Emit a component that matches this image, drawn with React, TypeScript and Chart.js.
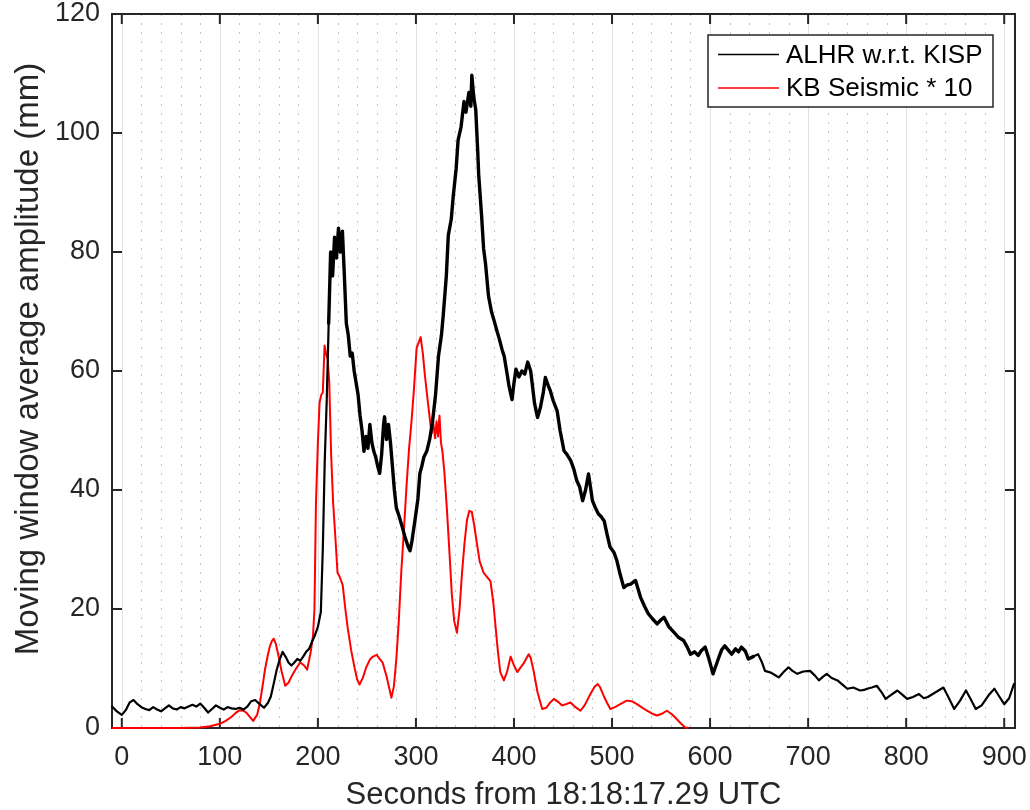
import React, { useEffect, useRef } from "react";
import { Chart, registerables } from "chart.js";

Chart.register(...registerables);

// ---- Data (seconds, amplitude in mm) ----
const alhrLabel = "ALHR w.r.t. KISP";
const seismicLabel = "KB Seismic * 10";

const alhrTrace: [number, number][] = [
  [-10, 3.6], [-5, 2.8], [0, 2.2], [4, 3.0], [8, 4.3], [12, 4.7], [16, 4.0], [20, 3.5],
  [24, 3.2], [28, 3.0], [32, 3.5], [36, 3.1], [40, 2.8], [44, 3.3], [48, 3.8], [52, 3.3],
  [56, 3.1], [60, 3.5], [64, 3.3], [68, 3.6], [72, 3.9], [76, 3.6], [80, 4.1], [84, 3.4],
  [88, 2.6], [92, 3.2], [96, 3.8], [100, 3.4], [104, 3.1], [108, 3.5], [112, 3.3], [116, 3.2],
  [120, 3.4], [124, 3.1], [128, 3.6], [132, 4.5], [136, 4.7], [140, 4.1], [145, 3.4], [149, 4.2],
  [152, 5.3], [155, 7.5], [158, 9.8], [161, 11.5], [164, 12.8], [167, 12.0], [170, 11.0], [173, 10.5],
  [176, 11.0], [179, 11.6], [182, 11.3], [185, 12.0], [188, 12.8], [191, 13.3], [194, 14.5], [197, 15.6],
  [200, 17.0], [203, 19.5], [205, 30], [207, 45], [209, 55], [211, 68], [213, 80], [215, 76],
  [217, 82.5], [219, 79], [221, 84], [223, 80], [225, 83.5], [227, 76], [229, 68], [231, 66],
  [233, 62.5], [235, 63], [237, 60], [239, 58], [241, 56], [243, 52.5], [245, 50], [247, 46.5],
  [249, 49], [251, 47], [253, 51], [255, 48], [257, 46.5], [259, 45.5], [261, 44], [263, 42.8],
  [265, 46], [267, 51], [268, 52.3], [270, 48.5], [272, 51], [274, 48], [276, 44], [278, 40],
  [280, 37], [283, 35.5], [286, 33.8], [289, 32], [292, 30.5], [294, 29.8], [296, 31.5], [299, 34.9],
  [302, 38.5], [304, 42.8], [306, 44], [308, 45.5], [311, 46.5], [314, 48.5], [317, 51.6], [320, 56],
  [323, 62.5], [326, 66], [328, 69.7], [331, 76], [333, 82.8], [336, 85.5], [338, 89.3], [341, 94],
  [343, 98.8], [346, 101], [349, 105.3], [351, 103.5], [354, 106.8], [356, 104.5], [357, 109.7], [359, 106],
  [361, 103.9], [363, 97], [364, 93], [367, 86], [369, 80.6], [371, 78], [374, 72.6], [377, 70],
  [380, 68.3], [383, 66.5], [385, 65.4], [388, 63.5], [390, 62.5], [393, 59.5], [395, 57.4], [398, 55.2],
  [400, 58], [402, 60.3], [405, 59], [408, 60], [411, 59.5], [414, 61.5], [417, 60], [419, 57.3],
  [421, 54.5], [424, 52.2], [427, 53.9], [430, 56.5], [432, 58.9], [435, 57.5], [437, 56.7], [440, 55],
  [444, 53.3], [447, 50], [451, 46.6], [454, 46], [458, 44.9], [461, 43.5], [464, 41.6], [467, 40.5],
  [470, 38.2], [473, 40], [476, 42.7], [478, 40.5], [480, 38.2], [483, 37], [486, 36], [489, 35.5],
  [492, 34.8], [495, 32.5], [498, 30.4], [502, 29.5], [505, 28.1], [508, 26], [512, 23.6], [515, 24],
  [519, 24.2], [524, 24.8], [529, 22], [533, 20.5], [537, 19.2], [541, 18.4], [546, 17.5], [550, 18.2],
  [553, 18.6], [558, 17], [563, 16.1], [568, 15.2], [573, 14.7], [577, 13.5], [580, 12.4], [584, 12.8],
  [588, 12.2], [591, 13], [595, 13.6], [599, 11.5], [603, 9.1], [606, 10.5], [609, 11.9], [612, 13.2],
  [615, 13.8], [619, 13], [622, 12.4], [626, 13.3], [629, 12.8], [632, 13.6], [636, 12.9], [639, 11.6],
  [644, 12.0], [649, 12.4], [653, 11.0], [656, 9.6], [662, 9.3], [666, 8.9], [670, 8.5], [675, 9.4],
  [680, 10.2], [684, 9.6], [689, 9.1], [695, 9.5], [702, 9.6], [707, 8.8], [711, 8.0], [715, 8.6],
  [719, 9.1], [724, 8.4], [730, 8.0], [735, 7.3], [740, 6.6], [746, 6.8], [753, 6.3], [757, 6.4],
  [760, 6.6], [765, 6.8], [770, 7.1], [775, 6.0], [779, 4.9], [785, 5.6], [791, 6.3], [796, 5.6],
  [801, 4.9], [807, 5.2], [813, 5.7], [818, 5.0], [822, 5.2], [830, 6.0], [838, 6.8], [843, 5.2],
  [849, 3.2], [855, 4.6], [861, 6.3], [866, 4.8], [871, 3.2], [877, 3.8], [884, 5.5], [890, 6.6],
  [895, 5.3], [900, 4.0], [905, 5.0], [910, 7.4],
];

const seismicTrace: [number, number][] = [
  [-10, 0], [60, 0], [80, 0.1], [90, 0.3], [100, 0.7], [106, 1.2], [112, 1.9], [116, 2.5],
  [120, 3.0], [124, 2.9], [127, 2.6], [131, 1.8], [134, 1.2], [138, 2.2], [141, 4.3], [144, 7.5],
  [146, 9.8], [149, 12.3], [151, 13.7], [153, 14.6], [155, 15.0], [157, 14.2], [160, 12.0], [163, 9.5],
  [166.7, 7.1], [170, 7.6], [173.5, 8.8], [177, 9.8], [182, 11.0], [186, 10.5], [189, 9.8], [192.5, 12.6],
  [195, 15.5], [196.5, 20], [198, 37.6], [200, 48], [201.7, 54.7], [203.5, 56], [205, 56.4], [206.8, 64.3],
  [208.5, 62.8], [210, 62], [211.6, 58], [213.5, 46], [215.5, 38], [218.6, 30], [220, 26.1], [222, 25.5],
  [225.3, 24], [228, 20], [230.5, 16.7], [234, 13], [237.3, 10.2], [240, 8.2], [242.5, 7.3], [246, 8.5],
  [249.3, 10.2], [253, 11.5], [256.2, 12], [260, 12.3], [263, 11.6], [266, 11.0], [270, 8.7], [273, 6.5],
  [275, 5.1], [277.5, 7], [280, 11.6], [282.5, 18], [285, 26.1], [288, 34], [290.4, 40.7], [293, 47],
  [295.5, 51.6], [298, 57], [300.7, 63.9], [304.8, 65.7], [307, 63], [309, 59.5], [312, 55], [314.4, 51.6],
  [316, 49.5], [317.5, 51.5], [319.5, 48.7], [321, 51.5], [322.5, 49], [324, 52.5], [325.5, 48], [327, 46.5],
  [329, 43], [331.5, 37], [334, 30], [336.6, 22.5], [339, 18], [341.8, 16], [344.5, 20], [347, 26.1],
  [349.5, 31], [352, 34.9], [354.5, 36.5], [357, 36.3], [359.5, 34], [362, 31.2], [365, 28], [369, 26.1],
  [372, 25.5], [376, 24.7], [379, 21], [381, 17.4], [383.5, 13], [386, 9.4], [389.7, 8], [393, 9.5],
  [396.6, 12], [400, 10.5], [403.4, 9.4], [406.8, 10.2], [410, 10.9], [413, 11.8], [415, 12.4], [417, 11.8],
  [420, 9.6], [424, 6], [428.8, 3.2], [433, 3.4], [437, 4.3], [440.7, 4.9], [445, 4.4], [449, 3.8],
  [453, 4.0], [457.6, 4.3], [462, 3.6], [467.8, 2.9], [472, 3.8], [478, 5.7], [482, 6.9], [485.4, 7.4],
  [488, 6.8], [491.5, 5.4], [495, 4.2], [498.3, 3.2], [503, 3.5], [508.5, 4.0], [515, 4.6], [520, 4.5],
  [525.4, 4.0], [530, 3.5], [535.6, 2.9], [541, 2.4], [545.8, 2.1], [551, 2.4], [556, 2.9], [561, 2.3],
  [566, 1.5], [570, 0.8], [574.6, 0.1], [578, 0],
];

const xTickValues = [0, 100, 200, 300, 400, 500, 600, 700, 800, 900];
const yTickValues = [0, 20, 40, 60, 80, 100, 120];
const xMinorGridValues = [
  20, 40, 60, 80, 120, 140, 160, 180, 220, 240, 260, 280, 320, 340, 360, 380,
  420, 440, 460, 480, 520, 540, 560, 580, 620, 640, 660, 680, 720, 740, 760, 780,
  820, 840, 860, 880,
];
// stretch of the ALHR trace that is drawn as a thick, noisy band in the reference
const alhrNoisyRange = [210, 640];
const xTitle = "Seconds from 18:18:17.29 UTC";
const yTitle = "Moving window average amplitude (mm)";

const FONT = "'Liberation Sans', Arial, Helvetica, sans-serif";
const AXIS_COLOR = "#262626";

const zeroPadding = (scale: any) => {
  scale.paddingLeft = 0;
  scale.paddingRight = 0;
  scale.paddingTop = 0;
  scale.paddingBottom = 0;
};

const framePlugin = {
  id: "matlabFrame",
  beforeDatasetsDraw(chart: any) {
    const { ctx, chartArea: a, scales } = chart;
    const x = scales.x;
    const y = scales.y;
    ctx.save();
    // minor dotted grid
    ctx.strokeStyle = "#c4c4c4";
    ctx.lineWidth = 1;
    ctx.setLineDash([2, 7]);
    for (const v of xMinorGridValues) {
      const px = Math.round(x.getPixelForValue(v)) + 0.5;
      ctx.beginPath();
      ctx.moveTo(px, a.top);
      ctx.lineTo(px, a.bottom);
      ctx.stroke();
    }
    // major solid grid
    ctx.setLineDash([]);
    ctx.strokeStyle = "#e2e2e2";
    for (const v of xTickValues) {
      const px = Math.round(x.getPixelForValue(v)) + 0.5;
      ctx.beginPath();
      ctx.moveTo(px, a.top);
      ctx.lineTo(px, a.bottom);
      ctx.stroke();
    }
    // box
    ctx.strokeStyle = AXIS_COLOR;
    ctx.lineWidth = 2;
    ctx.strokeRect(a.left, a.top, a.right - a.left, a.bottom - a.top);
    // inward ticks
    const tl = 10;
    ctx.beginPath();
    for (const v of xTickValues) {
      const px = x.getPixelForValue(v);
      ctx.moveTo(px, a.bottom);
      ctx.lineTo(px, a.bottom - tl);
      ctx.moveTo(px, a.top);
      ctx.lineTo(px, a.top + tl);
    }
    for (const v of yTickValues) {
      const py = y.getPixelForValue(v);
      ctx.moveTo(a.left, py);
      ctx.lineTo(a.left + tl, py);
      ctx.moveTo(a.right, py);
      ctx.lineTo(a.right - tl, py);
    }
    ctx.stroke();

    // y axis title (MATLAB places it slightly above the axis centre)
    ctx.translate(29, (a.top + a.bottom) / 2 - 12);
    ctx.rotate(-Math.PI / 2);
    ctx.fillStyle = AXIS_COLOR;
    ctx.font = `33px ${FONT}`;
    ctx.textAlign = "center";
    ctx.textBaseline = "middle";
    ctx.fillText(yTitle, 0, 0);
    ctx.restore();
  },
  afterDatasetsDraw(chart: any) {
    const { ctx, chartArea: a } = chart;
    ctx.save();
    const bx = a.right - 307;
    const by = a.top + 21;
    const bw = 285;
    const bh = 72;
    ctx.fillStyle = "#ffffff";
    ctx.fillRect(bx, by, bw, bh);
    ctx.strokeStyle = AXIS_COLOR;
    ctx.lineWidth = 1.5;
    ctx.strokeRect(bx, by, bw, bh);
    const entries = chart.data.datasets;
    ctx.font = `26px ${FONT}`;
    ctx.textBaseline = "middle";
    ctx.textAlign = "left";
    entries.forEach((ds: any, i: number) => {
      const ly = by + 19.5 + i * 33.5;
      ctx.strokeStyle = ds.borderColor;
      ctx.lineWidth = 1.5;
      ctx.beginPath();
      ctx.moveTo(bx + 10, ly);
      ctx.lineTo(bx + 71, ly);
      ctx.stroke();
      ctx.fillStyle = "#000000";
      ctx.fillText(ds.label, bx + 78, ly + 1);
    });
    ctx.restore();
  },
};

export default function App() {
  const canvasRef = useRef<HTMLCanvasElement | null>(null);

  useEffect(() => {
    document.body.style.margin = "0";
    const canvas = canvasRef.current;
    if (!canvas) return;
    const chart = new Chart(canvas, {
      type: "line",
      data: {
        datasets: [
          {
            label: alhrLabel,
            data: alhrTrace.map(([s, v]) => ({ x: s, y: v })),
            borderColor: "#000000",
            borderWidth: 2.2,
            borderCapStyle: "round",
            borderJoinStyle: "round",
            pointRadius: 0,
            tension: 0,
            fill: false,
            clip: 4,
            segment: {
              borderWidth: (c: any) => {
                const sx = c.p0.parsed.x;
                return sx >= alhrNoisyRange[0] && sx < alhrNoisyRange[1] ? 3.4 : 2.2;
              },
            },
          },
          {
            label: seismicLabel,
            data: seismicTrace.map(([s, v]) => ({ x: s, y: v })),
            borderColor: "#ff0000",
            borderWidth: 2,
            borderJoinStyle: "round",
            pointRadius: 0,
            tension: 0,
            fill: false,
            clip: 4,
          },
        ],
      },
      options: {
        animation: false,
        responsive: false,
        maintainAspectRatio: false,
        layout: { padding: { left: 0, top: 14, right: 15, bottom: 0 } },
        plugins: {
          legend: { display: false },
          tooltip: { enabled: false },
        },
        scales: {
          x: {
            type: "linear",
            min: -10,
            max: 911,
            afterBuildTicks: (scale: any) => {
              scale.ticks = xTickValues.map((v) => ({ value: v }));
            },
            afterFit: (scale: any) => {
              scale.height = 82;
              zeroPadding(scale);
            },
            grid: { display: false, drawTicks: false },
            border: { display: false },
            ticks: {
              autoSkip: false,
              maxRotation: 0,
              padding: 16,
              color: AXIS_COLOR,
              font: { family: FONT, size: 27, lineHeight: 1 },
            },
            title: {
              display: true,
              text: xTitle,
              color: AXIS_COLOR,
              font: { family: FONT, size: 31, lineHeight: 1 },
              padding: { top: 0, bottom: -1 },
            },
          },
          y: {
            type: "linear",
            min: 0,
            max: 120,
            afterBuildTicks: (scale: any) => {
              scale.ticks = yTickValues.map((v) => ({ value: v }));
            },
            afterFit: (scale: any) => {
              scale.width = 112;
              zeroPadding(scale);
            },
            grid: { display: false, drawTicks: false },
            border: { display: false },
            ticks: {
              autoSkip: false,
              padding: 12,
              color: AXIS_COLOR,
              font: { family: FONT, size: 27, lineHeight: 1 },
            },
            title: { display: false, text: yTitle },
          },
        },
      },
      plugins: [framePlugin],
    });
    return () => chart.destroy();
  }, []);

  return (
    <div style={{ width: 1030, height: 810 }}>
      <canvas ref={canvasRef} width={1030} height={810} />
    </div>
  );
}
